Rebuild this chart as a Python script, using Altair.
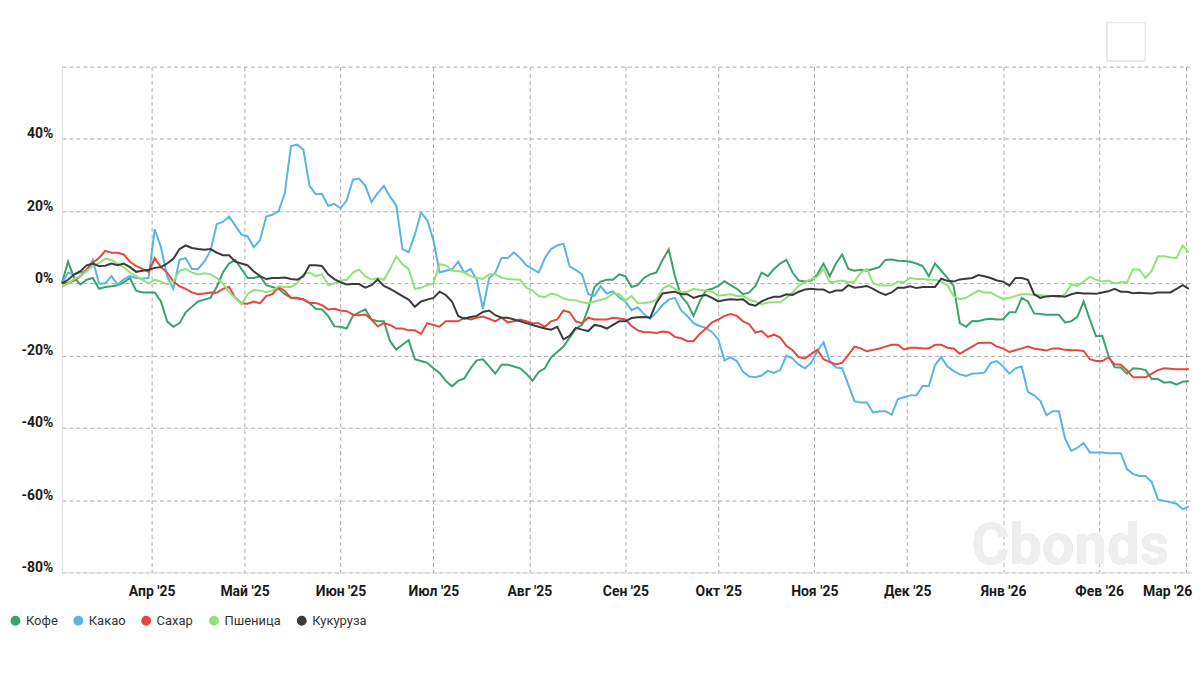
import altair as alt
import pandas as pd

# two interleaved sample grids (every 4 days, offset by 2 days)
dates_a = pd.date_range("2025-03-03", periods=92, freq="4D")
dates_b = pd.date_range("2025-03-05", periods=91, freq="4D")

names = ["Кофе", "Какао", "Сахар", "Пшеница", "Кукуруза"]
colors = ["#38a46b", "#5ab4e5", "#e5473f", "#90e27a", "#3b3b3b"]

coffee_a = [0, 1.5, 1, -1.5, -0.8, 0.3, -2, -2.5, -5, -12,
            -8, -5, -4, 3, 6.5, 1.5, 2, -1, -3, -4,
            -5.5, -7.2, -11.9, -12.5, -8, -10, -10.5, -18.3, -15.7, -21.5,
            -23.5, -27, -27, -23.5, -21, -25, -22.5, -23.5, -27, -23.5,
            -19, -15, -11.5, -1, 1, 2.5, -1, 1.5, 3, 9.4,
            -3.5, -9, -2, -0.7, -0.5, -3, -0.7, 2, 5.5, 3,
            0.5, 2.5, 2, 8, 3.5, 3.5, 4.5, 6.6, 6.2, 5.5,
            2, 3.5, -0.7, -12, -10.5, -9.8, -9.9, -8, -5, -8.5,
            -8.7, -10.8, -9.2, -10, -14.5, -23.2, -25, -23.6, -26.5, -27.5,
            -28, -27]
coffee_b = [6, -0.3, 1.5, -1, -0.5, 1.5, -2.5, -2.5, -10.5, -11,
            -6.5, -4.5, -1, 5.5, 4, 1.5, -0.5, -1.5, -4, -4.5,
            -7, -9, -12, -9, -7.2, -10.5, -16, -17, -21, -22,
            -24.8, -28.5, -26.3, -21.3, -23, -22.5, -23, -25, -24.5, -20.5,
            -17.5, -12.5, -7, 0.5, 1, 2, -0.5, 2.5, 6.5, 2,
            -5.5, -5, -1.5, 0.6, -1.5, -2.5, 3, 4, 6.5, 0.8,
            0.8, 5.5, 5.5, 4, 3.8, 4, 6.5, 6.3, 6, 4.8,
            5.5, 1.5, -11, -10.4, -10, -10, -8, -4, -8.3, -8.7,
            -8.7, -10.5, -5, -14.6, -20, -23.3, -23.5, -24, -26.5, -27.3,
            -27.2]

cocoa_a = [0, 2.5, 3.5, 0, 2, 1.1, 1.5, 1.5, 10, -1.5,
           7, 4, 9, 17, 16, 13, 12, 19, 25, 38.4,
           27, 24.8, 22, 23, 29, 22.5, 27, 21.6, 8.6, 19.6,
           12, 3.5, 6, 4, -7, 3, 7, 7, 4, 7,
           10.5, 4.7, 2.5, -3.5, -2.8, -3.9, -7.4, -8.5, -8, -4.5,
           -7.5, -11, -12.3, -15.5, -20.5, -24.5, -26, -24.2, -24, -20.8,
           -23.5, -18.8, -21.5, -23.5, -32.6, -33, -35.4, -36.4, -31.5, -31,
           -28.4, -20.4, -24.2, -25.6, -24.9, -22, -23, -23.5, -30, -32.5,
           -35.4, -43, -45.5, -46.8, -46.8, -47, -51.4, -53.3, -55, -60.2,
           -61, -61.8]
cocoa_b = [3, 3, 6.5, 0, -0.3, 2, 1.3, 15, 2, 6.5,
           4, 6, 16.4, 18.5, 13.5, 10, 18.5, 20, 38, 37,
           24.7, 21.5, 20.8, 28.7, 27, 25, 24, 9.5, 13.5, 17.5,
           3, 3.9, 3, 1, 1.5, 7, 8.6, 5, 3, 9.5,
           11, 3.7, -3, -0.8, -2.2, -5, -6.6, -9.8, -6, -4,
           -9, -11.8, -13.5, -21.3, -21.5, -25.8, -25.5, -24.8, -20, -22.5,
           -22, -16.3, -23.3, -28, -33, -35.8, -35.4, -32, -31, -28.4,
           -22.6, -23, -25.2, -25, -24.7, -21.5, -25, -23, -31, -36.5,
           -35.4, -46.4, -44.2, -46.8, -47, -47, -52.8, -53.3, -59.8, -60.6,
           -62.5]

sugar_a = [0, 0.8, 3.9, 7, 8.5, 8, 4.8, 3.2, 4.5, 0.5,
           -1.5, -3, -2.5, -1.5, -4, -5.6, -5.5, -3, -2.1, -4.2,
           -5.4, -6, -7, -7.7, -8.8, -10, -11, -12.5, -13, -14,
           -11.5, -10.5, -10.5, -10, -9.2, -10.5, -10.8, -10, -11, -12,
           -10, -8, -11, -10, -10, -9.7, -11.8, -13.5, -13.7, -13.5,
           -15.2, -16, -12.5, -10, -8.5, -10.5, -13.6, -14.8, -15, -18.5,
           -20.8, -18.4, -21.8, -22, -17.5, -18.8, -18, -17, -18.3, -17.8,
           -18, -17, -18, -18.5, -16.5, -16.4, -18, -18.5, -17.5, -18.3,
           -18, -18.4, -18.5, -21, -21.5, -22.4, -24, -26, -25, -23.5,
           -23.8, -23.8]
sugar_b = [0.2, 2, 5.7, 9, 8.5, 6, 4, 7, 3, -0.8,
           -2.5, -2.8, -2.6, -1, -5.5, -5, -3.5, -1, -4, -4.4,
           -5.4, -7.2, -7.5, -8.6, -8.6, -11.9, -11.5, -12.5, -13, -11,
           -12, -10.5, -9.5, -9.5, -9.8, -9.5, -10.5, -10.5, -11, -10.5,
           -7.5, -10.5, -9.5, -10, -9.5, -10, -13, -13.5, -13.3, -14.8,
           -16, -14, -10.8, -9, -9, -11.3, -13.2, -14.2, -17.3, -20.4,
           -19.5, -21, -22.4, -19.8, -18, -18.4, -17.5, -17, -17.8, -18,
           -17, -17.8, -19.5, -17.5, -16.4, -17.5, -19, -18, -18, -18.6,
           -18, -18.5, -18.7, -21.5, -20.5, -22.5, -26, -26, -24, -23.6,
           -23.8]

wheat_a = [-1, 1.2, 3.4, 5.6, 6.5, 4.5, 2, 0, 0.5, 0.5,
           4, 2.5, 2.5, 0, -4, -3, -2, -2, -1, 0,
           3, 2.5, 0, 1, 3.8, 1, 1, 7.5, 4, -1.2,
           0, 5, 3.4, 2, 1.2, 2.5, 1.2, 1, -2, -3.8,
           -3.2, -4.6, -5.2, -5, -4, -3, -3.5, -5.4, -4.5, -0.5,
           -2.5, -1.5, -2, -3.4, -3, -3.5, -5, -5.3, -5.2, -2.5,
           0.3, 1.8, 0.3, 0.8, 0.5, 4, -0.5, -0.5, 0.3, 1.2,
           1, 0.5, -3.5, -4, -2, -2.5, -4.3, -3.5, -3, -3.2,
           -3.5, -3, -0.7, 1.8, 0.5, 0, 0.3, 3.8, 3.5, 7.5,
           7, 8.5]
wheat_b = [0, 2, 4.8, 6.8, 5.5, 3, 1, 1, -0.3, 3.5,
           3, 2.8, 1.5, -2.5, -5.8, -1.8, -2.4, -0.8, -1, 2.5,
           2, -0.5, 0.8, 3, 2, 1.5, 4, 5.3, -1.5, -0.5,
           5.3, 3.5, 3, 1.5, 2.5, 1.6, 1.1, -1.2, -3.5, -2.8,
           -4.2, -4.7, -5.5, -4.6, -2.8, -4.8, -5.5, -5.2, -1.5, -1.5,
           -2.3, -1.8, -2.3, -3.2, -3.5, -4.5, -5.8, -5.2, -4, -0.6,
           1.2, 4, 0.5, 0.3, 3, 0, -0.6, 0.5, 1.5, 1.2,
           1, -0.5, -4.4, -3, -2.5, -3.5, -4, -3, -3.2, -3.5,
           -3.9, -0.3, 0.5, 1, 0.8, 0.3, 3.9, 1.5, 7.5, 7.2,
           10.5]

corn_a = [0, 2.5, 5, 4.8, 5.5, 5.5, 3.2, 3.8, 4.5, 6.8,
          10.5, 9.5, 9.5, 7.8, 6, 5, 2, 1.5, 1.6, 1,
          5, 4.8, 1.2, -0.3, -0.2, -0.5, -0.7, -2.5, -4.5, -5,
          -4, -3.2, -9, -9.3, -7.9, -8.8, -9.5, -10.5, -11.5, -12.5,
          -12, -14.5, -12.8, -11.5, -12.5, -10.5, -9.6, -9.3, -5.4, -2.5,
          -3, -4, -3.2, -5, -4.4, -4.4, -6.2, -4.2, -3.7, -3.2,
          -1.7, -1.7, -2.6, -2, -1.2, -0.7, -2.5, -2.5, -1.2, -1.3,
          -1, 1.3, 0.5, 1.3, 2.3, 1.5, 0.5, 1.5, 1, -4,
          -3.5, -3.7, -2.6, -2.8, -2.5, -1.5, -2.3, -2.6, -2.8, -2.5,
          -1.5, -1.5]
corn_b = [1, 3.4, 5.5, 4.9, 5, 4.5, 3.5, 4.3, 5.5, 9.5,
          9.8, 9.3, 8.5, 7.8, 5.5, 3.3, 1.2, 1.5, 1.2, 2,
          5, 2.5, 0.3, -0.2, -1.2, 1.1, -1.5, -3.5, -6.5, -4.5,
          -2.3, -5, -9.8, -9, -7.5, -9.5, -10, -11, -12, -12.8,
          -15.5, -12.3, -13.2, -11.8, -11.5, -10.5, -9.4, -9.5, -2.8, -2.3,
          -3, -3.5, -4, -4.6, -4.5, -5.8, -5, -3.7, -3, -2.3,
          -1.5, -1.7, -2, -0.5, -1, -1.5, -3.2, -1.2, -0.8, -1,
          -1, 0.7, 1.1, 1.5, 2, 0.8, -0.6, 1.5, -3, -3.6,
          -3.5, -3, -2.8, -2.9, -2.2, -2.3, -2.7, -2.7, -2.5, -2.5,
          -0.5]

series = [(coffee_a, coffee_b), (cocoa_a, cocoa_b), (sugar_a, sugar_b),
          (wheat_a, wheat_b), (corn_a, corn_b)]

rows = []
for order, (name, (va, vb)) in enumerate(zip(names, series)):
    for d, v in zip(dates_a, va):
        rows.append({"date": d, "series": name, "value": v, "order": order})
    for d, v in zip(dates_b, vb):
        rows.append({"date": d, "series": name, "value": v, "order": order})
df = pd.DataFrame(rows).sort_values(["order", "date"]).reset_index(drop=True)

month_ticks = [alt.DateTime(year=2025, month=m, date=1) for m in range(4, 13)] + \
              [alt.DateTime(year=2026, month=m, date=1) for m in range(1, 4)]

month_expr = ("['Янв','Фев','Мар','Апр','Май','Июн','Июл','Авг','Сен','Окт','Ноя','Дек']"
              "[month(datum.value)] + \" '\" + timeFormat(datum.value, '%y')")

FONT = "Roboto"
GRID = "#ababab"

x_enc = alt.X(
    "date:T",
    scale=alt.Scale(domain=[alt.DateTime(year=2025, month=3, date=3),
                            alt.DateTime(year=2026, month=3, date=3)]),
    axis=alt.Axis(values=month_ticks, labelExpr=month_expr, title=None,
                  grid=True, gridDash=[4, 3], gridColor=GRID, gridWidth=1,
                  ticks=False, labelFont=FONT, labelFontWeight="bold",
                  labelFontSize=14, labelColor="#1a1a1a", labelPadding=12,
                  labelFlush=10, labelFlushOffset=6,
                  domainColor="#dddddd", domainWidth=1),
)
y_enc = alt.Y(
    "value:Q",
    scale=alt.Scale(domain=[-80, 60], nice=False),
    axis=alt.Axis(values=[-80, -60, -40, -20, 0, 20, 40, 60],
                  labelExpr="datum.value >= 60 ? '' : datum.value + '%'",
                  title=None, grid=True, gridDash=[4, 3], gridColor=GRID,
                  ticks=False, labelFont=FONT, labelFontWeight="bold",
                  labelFontSize=14, labelColor="#1a1a1a", labelPadding=9,
                  labelBaseline="alphabetic", labelOffset=-1,
                  domainColor="#dddddd"),
)

lines = alt.Chart(df).mark_line(strokeWidth=2, interpolate="linear").encode(
    x=x_enc,
    y=y_enc,
    color=alt.Color(
        "series:N",
        scale=alt.Scale(domain=names, range=colors),
        sort=names,
        legend=alt.Legend(title=None, orient="none", legendX=-53, legendY=549,
                          direction="horizontal", symbolType="circle",
                          symbolSize=24, symbolStrokeWidth=5, symbolOpacity=1,
                          labelFont=FONT, labelFontSize=13, labelColor="#333333",
                          labelOffset=4, columnPadding=8, padding=0),
    ),
    order=alt.Order("order:Q"),
    detail="series:N",
)

watermark = alt.Chart(df).mark_text(
    text="Cbonds", font="Roboto", fontSize=58, fontWeight="bold",
    color="#eeeeee", align="center", baseline="alphabetic"
).encode(x=alt.value(1011), y=alt.value(499))

button = alt.Chart(df).mark_rect(
    fill="white", stroke="#e6e6e6", strokeWidth=1
).encode(x=alt.value(1048), x2=alt.value(1086), y=alt.value(-44), y2=alt.value(-6))

chart = alt.layer(watermark, button, lines).properties(
    width=1133, height=507,
    autosize=alt.AutoSizeParams(type="none"),
    padding={"left": 54, "top": 58, "right": 4, "bottom": 70},
    background="white",
).configure_view(strokeWidth=0)

chart.save("out.html", embed_options={"renderer": "svg", "actions": False})
